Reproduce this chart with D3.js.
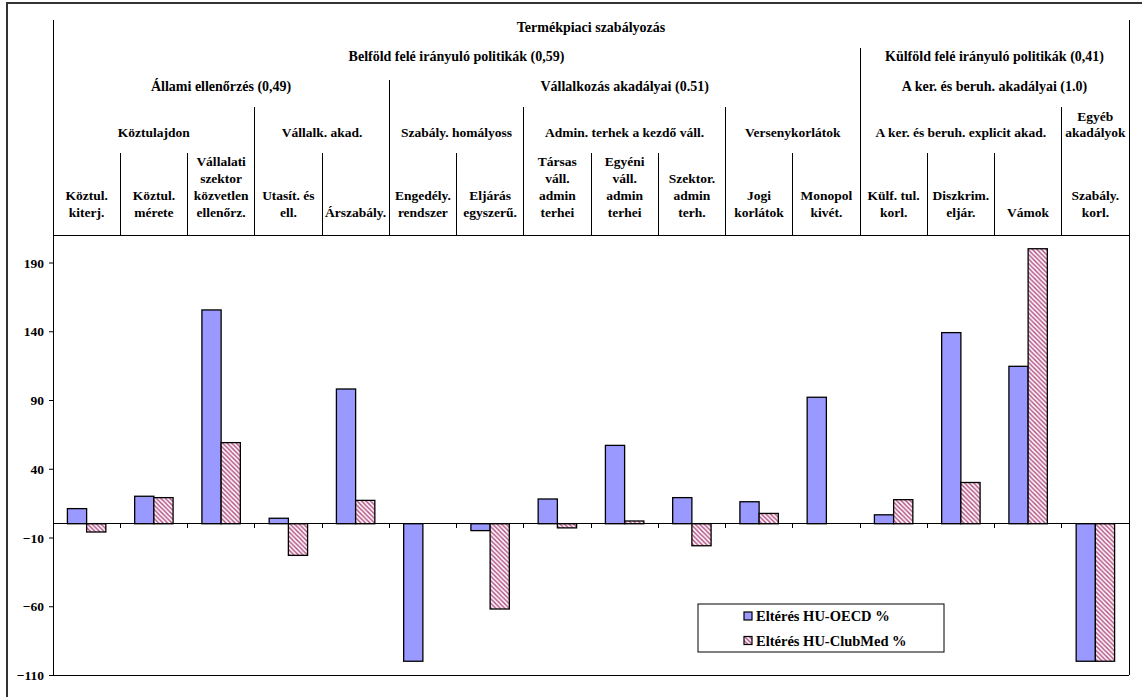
<!DOCTYPE html>
<html><head><meta charset="utf-8">
<script src="https://cdn.jsdelivr.net/npm/d3@7"></script>
<style>
html,body{margin:0;padding:0;background:#fff;}
</style></head>
<body><svg id="c" width="1142" height="697"></svg>
<script>
// ---- data ----
const categories = [
  ["Köztul.","kiterj."],["Köztul.","mérete"],["Vállalati","szektor","közvetlen","ellenőrz."],
  ["Utasít. és","ell."],["Árszabály."],["Engedély.","rendszer"],["Eljárás","egyszerű."],
  ["Társas","váll.","admin","terhei"],["Egyéni","váll.","admin","terhei"],["Szektor.","admin","terh."],
  ["Jogi","korlátok"],["Monopol","kivét."],["Külf. tul.","korl."],["Diszkrim.","eljár."],
  ["Vámok"],["Szabály.","korl."]
];
const seriesNames = ["Eltérés HU-OECD %","Eltérés HU-ClubMed %"];
const oecdValues    = [11, 20, 155.5, 4, 98, -100, -5, 18, 57, 19, 16, 92, 6.5, 139, 114.5, -100];
const clubMedValues = [-6, 19, 59, -23, 17, 0, -62, -3, 2, -16, 7.5, 0, 17.5, 30, 200, -100];
const yTicks = [-110, -60, -10, 40, 90, 140, 190];
const headerLevel0 = [["Termékpiaci szabályozás", 0, 16]];
const headerLevel1 = [["Belföld felé irányuló politikák (0,59)", 0, 12], ["Külföld felé irányuló politikák (0,41)", 12, 16]];
const headerLevel2 = [["Állami ellenőrzés (0,49)", 0, 5], ["Vállalkozás akadályai (0.51)", 5, 12], ["A ker. és beruh. akadályai (1.0)", 12, 16]];
const headerLevel3 = [[["Köztulajdon"], 0, 3], [["Vállalk. akad."], 3, 5], [["Szabály. homályoss"], 5, 7],
  [["Admin. terhek a kezdő váll."], 7, 10], [["Versenykorlátok"], 10, 12],
  [["A ker. és beruh. explicit akad."], 12, 15], [["Egyéb", "akadályok"], 15, 16]];

// ---- layout ----
const FONT = "'Liberation Serif', 'DejaVu Serif', serif";
const FS = 13.5;
const svg = d3.select("#c");
const L = 53, R = 1129, T = 235, B = 675, headTop = 20;
const x = d3.scaleBand().domain(d3.range(categories.length)).range([L, R]).paddingInner(0).paddingOuter(0);
const y = d3.scaleLinear().domain([-110, 210]).range([B, T]);
const bx = i => L + i * x.step();

// outer frame (clipped by window)
svg.append("rect").attr("x", 7).attr("y", 3).attr("width", 1160).attr("height", 720)
  .attr("fill", "none").attr("stroke", "#333").attr("stroke-width", 2);

// hatch pattern
const defs = svg.append("defs");
const pat = defs.append("pattern").attr("id", "hatch").attr("patternUnits", "userSpaceOnUse")
  .attr("width", 4.5).attr("height", 4.5);
pat.append("rect").attr("width", 4.5).attr("height", 4.5).attr("fill", "#fff");
pat.append("path").attr("d", "M-1,-1 L5.5,5.5 M-1,3.5 L1,5.5 M3.5,-1 L5.5,1")
  .attr("stroke", "#b8588a").attr("stroke-width", 1.5);

// header lines
const line = (x1, y1, x2, y2, w) => svg.append("line").attr("x1", x1).attr("y1", y1).attr("x2", x2).attr("y2", y2)
  .attr("stroke", "#000").attr("stroke-width", w || 1).attr("shape-rendering", "crispEdges");
const levels = [[headerLevel1, 48], [headerLevel2, 80], [headerLevel3, 107]];
for (let i = 1; i < categories.length; i++) {
  let top = 153;
  for (const [lv, t] of levels) { if (lv.some(g => g[1] === i)) { top = t; break; } }
  line(bx(i), top, bx(i), T);
}
line(L, headTop, L, B);
line(R, headTop, R, B);
line(L, T, R, T);
line(L, B, R, B);

const txt = (xx, yy, t, anchor, fs) => svg.append("text").attr("x", xx).attr("y", yy)
  .attr("text-anchor", anchor || "middle").attr("font-family", FONT).attr("font-weight", "bold")
  .attr("font-size", fs || FS).attr("fill", "#000").text(t);

// header texts
const cx = (s, e) => (bx(s) + bx(e)) / 2;
const drawRow = (lv, base, fs) => lv.forEach(([lab, s, e]) => {
  const lines = Array.isArray(lab) ? lab : [lab];
  lines.forEach((t, k) => txt(cx(s, e), base - (lines.length - 1 - k) * 16.5, t, "middle", fs));
});
drawRow(headerLevel0, 32, 14);
drawRow(headerLevel1, 61, 14);
drawRow(headerLevel2, 91, 14);
drawRow(headerLevel3, 137);
categories.forEach((lines, i) => {
  lines.forEach((t, k) => txt(x(i) + x.bandwidth() / 2, 217 - (lines.length - 1 - k) * 17, t));
});

// bars
const bw = x.step() / 3.5;
const drawBars = (vals, fill, off) => svg.append("g").selectAll("rect").data(vals).join("rect")
  .attr("x", (d, i) => x(i) + x.bandwidth() / 2 + off * bw)
  .attr("y", d => y(Math.max(0, d))).attr("width", bw)
  .attr("height", d => Math.abs(y(d) - y(0)))
  .attr("fill", fill).attr("stroke", "#000").attr("stroke-width", 1.3)
  .style("display", d => d === 0 ? "none" : null);
drawBars(oecdValues, "#9999ff", -1);
drawBars(clubMedValues, "url(#hatch)", 0);

// zero axis with ticks at category boundaries
line(L, y(0), R, y(0), 1.3);
for (let i = 1; i < categories.length; i++) line(bx(i), y(0), bx(i), y(0) + 4);

// y axis
const ya = svg.append("g").attr("transform", `translate(${L},0)`)
  .call(d3.axisLeft(y).tickValues(yTicks).tickSize(4).tickFormat(d3.format("d")));
ya.attr("font-family", FONT).attr("font-size", FS).attr("font-weight", "bold");
ya.select(".domain").remove();
ya.selectAll("line").attr("stroke", "#000");
ya.selectAll("text").attr("x", -9).attr("dy", "0.35em").attr("fill", "#000");

// legend
const lg = svg.append("g");
lg.append("rect").attr("x", 698).attr("y", 604).attr("width", 246).attr("height", 48)
  .attr("fill", "#fff").attr("stroke", "#000").attr("stroke-width", 1);
const legFills = ["#9999ff", "url(#hatch)"];
seriesNames.forEach((n, k) => {
  lg.append("rect").attr("x", 744).attr("y", 612 + k * 24.5).attr("width", 8).attr("height", 8)
    .attr("fill", legFills[k]).attr("stroke", "#000").attr("stroke-width", 1.2);
  txt(756, 621 + k * 24.5, n, "start", 14.5);
});
</script></body></html>
